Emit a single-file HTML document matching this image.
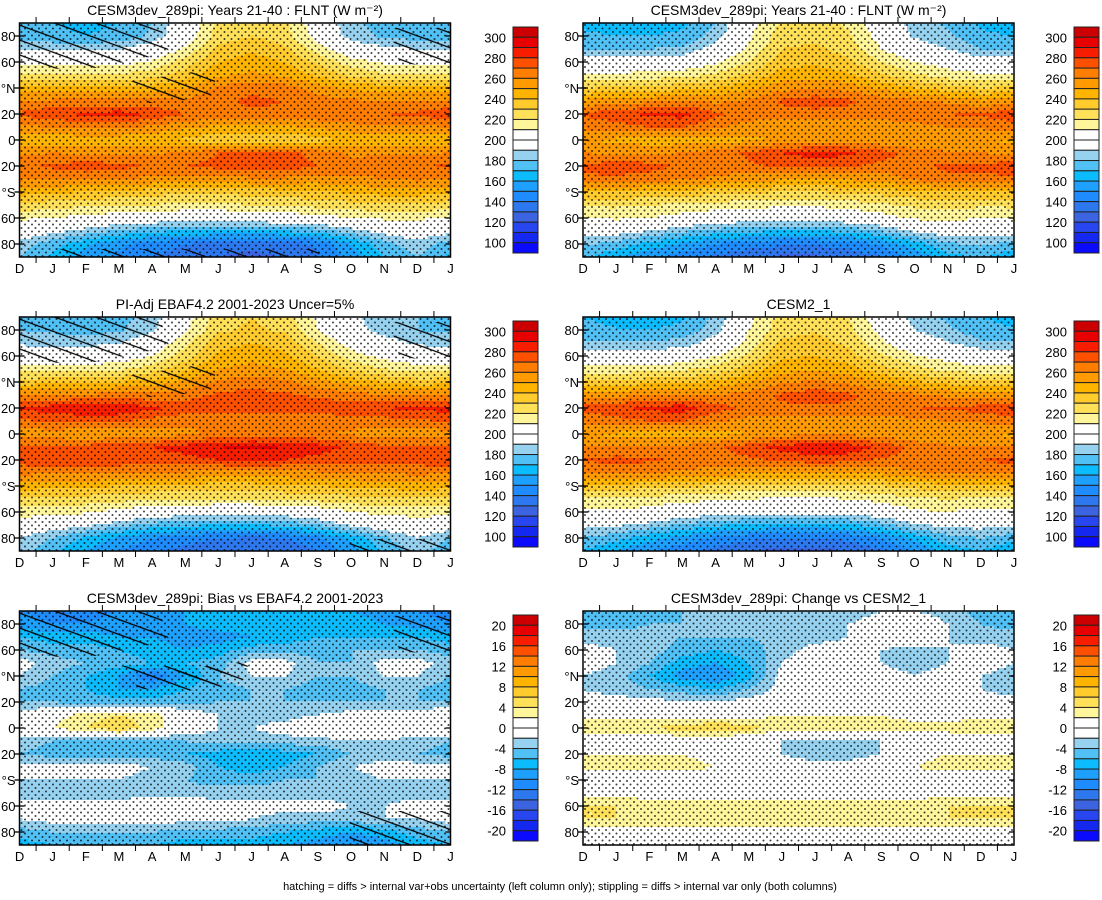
<!DOCTYPE html>
<html><head><meta charset="utf-8"><style>
body{margin:0;background:#fff;width:1102px;height:895px;overflow:hidden;font-family:"Liberation Sans",sans-serif}
svg text{font-family:"Liberation Sans",sans-serif}
</style></head><body>
<svg id="fig" width="1102" height="895" xmlns="http://www.w3.org/2000/svg">
<defs>
<pattern id="stip" width="7" height="7" patternUnits="userSpaceOnUse"><circle cx="2" cy="2" r="1" fill="#000"/><circle cx="5.5" cy="5.5" r="1" fill="#000"/></pattern>
<pattern id="hatch" width="30" height="14" patternUnits="userSpaceOnUse" patternTransform="rotate(20)"><line x1="0" y1="2" x2="30" y2="2" stroke="#000" stroke-width="1.2"/></pattern>
</defs>
<text x="560" y="890" font-size="11" text-anchor="middle">hatching = diffs &gt; internal var+obs uncertainty (left column only); stippling = diffs &gt; internal var only (both columns)</text>
</svg>
<script>
const months=["D","J","F","M","A","M","J","J","A","S","O","N","D","J"];
const latLabels=["80","60","°N","20","0","20","°S","60","80"];
const absLevels=[100,110,120,130,140,150,160,170,180,190,200,210,220,230,240,250,260,270,280,290,300];
const absLabels=["300","280","260","240","220","200","180","160","140","120","100"];
const diffLevels=[-20,-18,-16,-14,-12,-10,-8,-6,-4,-2,0,2,4,6,8,10,12,14,16,18,20];
const diffLabels=["20","16","12","8","4","0","-4","-8","-12","-16","-20"];
const palette=["#0a0aff","#1428f0","#2846f0","#3c64e0","#2d78ee","#1e8cff","#1ea0ff","#0bbcff","#50c0f5","#96d2f0","#ffffff","#ffffff","#fff59b","#ffe159","#ffcb2d","#ffb400","#ff9a00","#ff7d00","#ff5000","#f91d00","#e80000","#cc0000"];
// rows: lat 90,80,...,-90 ; cols: D J F M A M J J A S O N D J
const p1=[
[172,170,168,170,180,200,222,228,222,202,182,176,172,170],
[175,172,170,172,182,202,225,230,225,205,185,178,175,172],
[190,188,188,190,198,212,232,238,232,215,200,193,190,188],
[205,205,205,205,212,225,240,245,240,228,215,208,205,205],
[222,222,222,222,225,235,248,252,248,238,228,222,222,222],
[245,245,245,245,245,250,262,268,265,255,248,245,245,245],
[260,262,262,262,262,262,268,272,270,265,262,260,260,262],
[272,278,282,285,278,270,268,268,268,268,270,270,272,278],
[258,260,262,262,258,252,248,248,248,252,256,258,258,260],
[245,244,244,244,242,238,232,230,230,236,242,245,245,244],
[258,260,258,256,258,262,270,274,274,266,258,258,258,260],
[268,272,276,274,268,270,274,278,276,270,265,266,268,272],
[262,262,262,260,258,255,255,258,258,256,258,260,262,262],
[245,242,240,238,235,232,232,235,236,238,242,245,245,242],
[228,225,222,220,220,218,218,220,222,224,226,228,228,225],
[212,210,206,203,200,198,198,200,202,205,210,212,212,210],
[200,194,186,178,172,170,168,168,170,175,185,195,200,194],
[186,174,162,152,145,140,135,132,135,142,160,176,186,174],
[180,168,155,148,140,135,130,128,130,138,155,170,180,168]];
const p2=[
[168,165,165,168,180,205,222,225,218,200,185,178,168,165],
[172,170,170,172,185,208,225,228,222,205,188,182,172,170],
[180,180,180,182,195,212,230,232,226,210,198,190,180,180],
[198,198,198,200,208,220,236,238,232,220,210,204,198,198],
[212,212,214,216,222,232,244,246,242,232,222,215,212,212],
[230,232,234,236,240,248,256,260,256,248,240,234,230,232],
[252,255,258,260,258,262,272,276,272,266,262,258,252,255],
[272,276,282,284,272,266,266,266,266,266,268,270,272,276],
[262,266,270,270,262,255,250,250,250,252,256,260,262,266],
[250,248,245,245,245,248,252,254,254,252,250,250,250,248],
[260,258,258,260,265,272,280,284,282,275,265,262,260,258],
[272,276,274,268,265,268,272,274,272,266,268,272,272,276],
[268,268,265,262,258,255,252,252,252,254,262,268,268,268],
[240,240,238,236,234,232,230,230,232,234,238,240,240,240],
[222,222,220,218,216,214,212,212,214,218,222,224,222,222],
[210,212,210,205,200,198,198,198,200,205,212,214,210,212],
[198,196,190,182,176,172,170,170,172,180,192,198,198,196],
[182,176,166,158,150,145,142,142,145,152,165,178,182,176],
[172,162,152,145,138,132,128,128,132,140,152,166,172,162]];
const p3=[
[180,178,175,176,185,205,225,230,225,208,192,185,180,178],
[180,178,176,178,188,208,228,232,228,210,194,186,180,178],
[188,186,186,190,200,218,236,240,236,220,204,195,188,186],
[200,200,200,202,210,225,242,246,242,230,215,206,200,200],
[215,215,215,218,225,238,250,254,250,240,228,220,215,215],
[235,236,238,240,244,252,262,266,262,254,246,240,235,236],
[258,260,262,264,262,266,272,274,272,268,264,260,258,260],
[282,285,288,288,282,276,274,274,274,276,278,280,282,285],
[268,272,274,272,266,262,260,260,260,262,264,266,268,272],
[255,254,252,252,254,258,262,264,264,262,258,256,255,254],
[270,272,274,276,280,285,290,292,290,285,278,272,270,272],
[275,280,280,276,274,276,280,282,280,276,274,274,275,280],
[262,262,262,262,260,258,256,256,256,258,260,262,262,262],
[245,244,242,240,238,236,236,236,238,240,242,244,245,244],
[228,228,226,224,222,220,220,220,222,224,226,228,228,228],
[215,215,212,206,200,198,196,196,198,202,210,214,215,215],
[202,198,192,184,176,172,170,170,172,180,192,200,202,198],
[190,180,168,158,150,145,140,138,140,148,162,178,190,180],
[185,172,160,150,142,136,130,130,132,140,155,172,185,172]];
const p4=[
[170,166,165,168,182,206,224,226,220,202,186,178,170,166],
[174,171,170,173,186,210,226,229,223,206,190,182,174,171],
[182,181,181,184,196,214,232,234,228,212,199,191,182,181],
[200,199,199,201,210,222,238,240,234,222,211,205,200,199],
[214,214,215,218,224,234,246,248,244,234,224,216,214,214],
[232,234,236,238,242,250,258,262,258,250,242,236,232,234],
[254,256,260,262,260,264,272,276,272,266,262,258,254,256],
[274,278,283,285,274,268,268,268,268,268,270,272,274,278],
[262,266,270,270,262,256,252,252,252,254,258,260,262,266],
[250,248,246,246,246,250,256,258,258,254,252,250,250,248],
[260,260,260,262,268,276,284,288,286,278,266,262,260,260],
[270,274,272,268,265,268,272,276,274,268,268,270,270,274],
[262,262,260,258,254,252,250,250,250,252,258,262,262,262],
[236,236,234,232,230,228,226,226,228,230,234,236,236,236],
[218,218,216,214,212,210,208,208,210,214,218,220,218,218],
[206,208,206,200,196,194,194,194,196,200,208,210,206,208],
[194,192,186,178,172,168,166,166,168,176,188,194,194,192],
[180,174,164,156,148,143,140,140,143,150,163,176,180,174],
[170,160,150,143,136,130,126,126,130,138,150,164,170,160]];
const p5=[
[-10,-11,-11,-10,-9,-8,-8,-8,-8,-8,-8,-9,-10,-11],
[-9,-10,-10,-9,-8,-8,-7,-7,-7,-7,-7,-8,-9,-10],
[-6,-7,-7,-8,-8,-9,-9,-8,-7,-6,-6,-6,-6,-7],
[-4,-5,-5,-6,-7,-8,-7,-5,-5,-5,-4,-4,-4,-5],
[-1,-3,-4,-5,-6,-6,-5,-1,-1,-4,-4,-1,-1,-3],
[-2,-4,-6,-8,-12,-8,-4,-2,-2,-4,-4,-2,-2,-4],
[-4,-5,-6,-8,-8,-6,-5,-4,-4,-5,-5,-4,-4,-5],
[-4,-4,-5,-5,-5,-5,-4,-4,-4,-4,-4,-4,-4,-4],
[-1,1,3,4,3,0,-2,-3,-3,-2,-1,-1,-1,1],
[0,2,4,6,3,0,-2,-2,-1,1,1,0,0,2],
[-3,-4,-5,-5,-5,-4,-3,-3,-3,-3,-2,-2,-3,-4],
[-4,-5,-5,-5,-5,-6,-7,-8,-7,-6,-4,-3,-4,-5],
[-1,-1,-1,-1,-2,-3,-6,-7,-6,-4,-2,-1,-1,-1],
[-2,-2,-2,-2,-3,-4,-5,-5,-4,-4,-3,-2,-2,-2],
[-3,-3,-3,-3,-3,-3,-3,-3,-3,-3,-3,-3,-3,-3],
[-1,-1,-1,-1,0,0,-1,-1,-1,-1,-2,-2,-1,-1],
[-2,-1,-1,-1,-1,-1,-1,-2,-3,-3,-3,-2,-2,-1],
[-5,-4,-4,-4,-4,-5,-5,-5,-6,-7,-8,-7,-5,-4],
[-7,-6,-6,-6,-6,-7,-7,-7,-8,-9,-10,-9,-7,-6]];
const p6=[
[-6,-6,-5,-4,-4,-3,-4,-4,-3,-2,-2,-3,-5,-6],
[-5,-5,-4,-4,-4,-4,-3,-3,-2,-1,0,-2,-4,-5],
[-3,-3,-3,-4,-4,-4,-3,-3,-2,0,0,-2,-3,-3],
[-1,-2,-3,-5,-6,-5,-3,-1,-1,-2,-3,-2,-1,-2],
[-1,-2,-4,-7,-8,-6,-2,0,0,-2,-3,-2,-1,-2],
[-2,-3,-6,-9,-10,-7,-1,0,0,-1,-2,-1,-2,-3],
[-2,-3,-4,-5,-6,-4,-1,0,0,0,-1,-1,-2,-3],
[-1,-1,-1,-2,-2,-1,0,0,0,0,0,-1,-1,-1],
[1,1,1,1,1,1,2,2,2,2,1,1,1,1],
[4,4,4,5,6,5,3,3,3,3,3,3,4,4],
[0,0,0,0,0,-1,-2,-3,-3,-2,0,0,0,0],
[2,2,2,2,1,0,-2,-3,-3,-2,1,2,2,2],
[3,3,3,3,2,0,-1,-1,-1,0,2,3,3,3],
[0,0,0,0,0,0,0,0,0,0,0,0,0,0],
[1,1,1,1,1,1,1,1,1,1,1,1,1,1],
[4,4,3,3,3,3,3,3,3,3,3,4,4,4],
[4,4,4,4,4,4,4,4,4,4,4,4,4,4],
[1,0,0,0,0,0,0,0,0,0,0,1,1,0],
[-1,-2,-2,-2,-2,-2,-1,-1,-1,-1,-1,-1,-1,-2]];
const titles=["CESM3dev_289pi: Years 21-40 : FLNT (W m\u207B\u00B2)","CESM3dev_289pi: Years 21-40 : FLNT (W m\u207B\u00B2)","PI-Adj EBAF4.2 2001-2023 Uncer=5%","CESM2_1","CESM3dev_289pi: Bias vs EBAF4.2 2001-2023","CESM3dev_289pi: Change vs CESM2_1"];
const fields=[p1,p2,p3,p4,p5,p6];
const NS="http://www.w3.org/2000/svg";
const svg=document.getElementById("fig");
const PW=431,PH=234;
function mk(t,a,parent){const e=document.createElementNS(NS,t);for(const k in a)e.setAttribute(k,a[k]);(parent||svg).appendChild(e);return e;}
function colorIdx(v,levels){let i=0;while(i<levels.length&&v>=levels[i])i++;return i;}
function sample(f,cx,cy){const nr=f.length-1,nc=f[0].length-1;cx=Math.max(0,Math.min(nc,cx));cy=Math.max(0,Math.min(nr,cy));const c0=Math.min(Math.floor(cx),nc-1),r0=Math.min(Math.floor(cy),nr-1);const tx=cx-c0,ty=cy-r0;
return f[r0][c0]*(1-tx)*(1-ty)+f[r0][c0+1]*tx*(1-ty)+f[r0+1][c0]*(1-tx)*ty+f[r0+1][c0+1]*tx*ty;}
const xScale=m=>m/13*PW, yScale=lat=>(90-lat)/180*PH;
const hatchRegions=[[[0,0,140,0,150,30,60,48,0,42],[100,60,200,45,190,75,130,80],[370,5,431,5,431,45,380,40],[40,226,300,226,300,234,40,234]],null,
[[0,0,140,0,150,30,60,48,0,42],[100,60,200,45,190,75,130,80],[370,5,431,5,431,45,380,40],[330,222,431,222,431,234,330,234]],null,
[[0,0,140,0,150,30,60,48,0,42],[100,55,210,55,200,80,120,78],[150,60,230,50,220,80],[370,5,431,5,431,45,380,40],[330,200,431,200,431,234,330,234]],null];
for(let p=0;p<6;p++){
 const col=p%2,row=Math.floor(p/2);
 const X0=col?583:19.5,Y0=23+row*294;
 const diff=row===2;const levels=diff?diffLevels:absLevels;const f=fields[p];
 const nr=f.length-1;
 const g=mk("g",{"transform":`translate(${X0},${Y0})`});
 
 
 const cp=mk("clipPath",{id:"clip"+p},g);
 mk("rect",{x:0,y:0,width:PW,height:PH},cp);
 const cg=mk("g",{"clip-path":`url(#clip${p})`},g);
 
 
 const step=3;
 for(let y=0;y<PH;y+=step){
  let runStart=0,runIdx=-1;
  const cy=(y+step/2)/PH*nr;
  const emit=(xEnd)=>{const r=mk("rect",{x:runStart,y:y,width:xEnd-runStart+0.5,height:step+0.5,fill:palette[runIdx]},cg);
     
     };
  for(let x=0;x<PW;x+=step){
   const idx=colorIdx(sample(f,(x+step/2)/PW*13,cy),levels);
   if(idx!==runIdx){if(runIdx>=0)emit(x);runStart=x;runIdx=idx;}
  }
  emit(PW);
 }
 const st=mk("rect",{x:0,y:0,width:PW,height:PH,fill:"url(#stip)",opacity:"0.75"},cg);
 
 
 if(hatchRegions[p]){for(const poly of hatchRegions[p]){const pts=[];for(let i=0;i<poly.length;i+=2)pts.push(poly[i]+","+poly[i+1]);
  const h=mk("polygon",{points:pts.join(" "),fill:"url(#hatch)"},cg);
  
  }}
 const fr=mk("rect",{x:0,y:0,width:PW,height:PH,fill:"none",stroke:"#000","stroke-width":"1.5"},g);
 
 
 for(let i=0;i<14;i++){const x=xScale(i);
  const t=mk("text",{x:x,y:PH+16,"font-size":"13","text-anchor":"middle"},g);t.textContent=months[i];
  
  
  if(i<13){const tx=xScale(i+0.5);mk("line",{x1:tx,y1:PH,x2:tx,y2:PH+6,stroke:"#000"},g);mk("line",{x1:tx,y1:0,x2:tx,y2:-6,stroke:"#000"},g);}
 }
 for(let i=0;i<9;i++){const y=yScale(80-i*20);
  mk("line",{x1:-5,y1:y,x2:5,y2:y,stroke:"#000","stroke-width":"1.3"},g);
  mk("line",{x1:PW-5,y1:y,x2:PW,y2:y,stroke:"#000","stroke-width":"1.3"},g);
  const t=mk("text",{x:-4,y:y+5,"font-size":"13","text-anchor":"end"},g);t.textContent=latLabels[i];
  
  }
 const tt=mk("text",{x:PW/2,y:-8,"font-size":"14","text-anchor":"middle"},g);tt.textContent=titles[p];
 
 
 const cb=mk("g",{"transform":`translate(${col?1074:513},${Y0+4})`});
 
 
 const bh=226/22;
 for(let i=0;i<22;i++){const r=mk("rect",{x:0,y:i*bh,width:25,height:bh,fill:palette[21-i],stroke:"#222","stroke-width":"1"},cb);
  
  }
 const labs=diff?diffLabels:absLabels;
 for(let i=0;i<11;i++){const t=mk("text",{x:-7,y:bh*(1+2*i)+5,"font-size":"13","text-anchor":"end"},cb);t.textContent=labs[i];
  
  }
}
</script>
</body></html>
